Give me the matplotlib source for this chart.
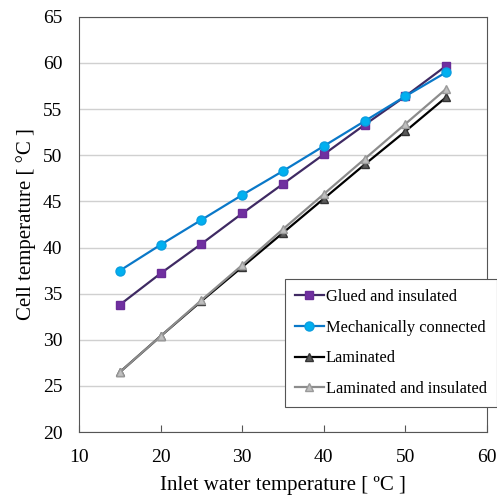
import matplotlib
matplotlib.use('Agg')
import matplotlib.pyplot as plt

inlet = [15, 20, 25, 30, 35, 40, 45, 50, 55]
glued = [33.8, 37.2, 40.4, 43.7, 46.9, 50.1, 53.3, 56.4, 59.7]
mech = [37.5, 40.3, 43.0, 45.7, 48.3, 51.0, 53.7, 56.4, 59.0]
laminated = [26.5, 30.4, 34.2, 37.9, 41.6, 45.3, 49.0, 52.6, 56.3]
lam_ins = [26.5, 30.4, 34.3, 38.1, 42.0, 45.8, 49.6, 53.4, 57.2]

plt.rcParams['font.family'] = ['Liberation Serif', 'DejaVu Serif']

fig = plt.figure(figsize=(4.97, 4.95), dpi=100)
ax = fig.add_axes([0.159, 0.127, 0.821, 0.839])

ax.plot(inlet, glued, '-s', color='#3f2a63', lw=1.6, ms=5.5,
        mfc='#7030a0', mec='#6a2c98', label='Glued and insulated')
ax.plot(inlet, mech, '-o', color='#0a78c8', lw=1.6, ms=6.5,
        mfc='#00b0f0', mec='#0a9ee0', label='Mechanically connected')
ax.plot(inlet, laminated, '-^', color='black', lw=1.6, ms=6,
        mfc='#5a5a5a', mec='#333333', label='Laminated')
ax.plot(inlet, lam_ins, '-^', color='#8c8c8c', lw=1.6, ms=6,
        mfc='#c0c0c0', mec='#9a9a9a', label='Laminated and insulated')

ax.set_xlim(10, 60)
ax.set_ylim(20, 65)
ax.set_xticks(range(10, 61, 10))
ax.set_yticks(range(20, 66, 5))
ax.yaxis.grid(True, color='#d0d0d0', lw=1)
ax.set_axisbelow(True)
ax.tick_params(axis='x', direction='in', length=5, labelsize=14, pad=12, color='#555555')
ax.tick_params(axis='y', length=0, labelsize=14, pad=12)
for sp in ax.spines.values():
    sp.set_color('#555555')

ax.set_xlabel('Inlet water temperature [ ºC ]', fontsize=15, labelpad=7)
ax.set_ylabel('Cell temperature [ °C ]', fontsize=15, labelpad=5)

leg = ax.legend(loc='lower left', bbox_to_anchor=(0.573, 0.178), bbox_transform=fig.transFigure,
                borderaxespad=0, fancybox=False, framealpha=1, edgecolor='#555555',
                fontsize=11.8, handlelength=1.8, handletextpad=0.1, labelspacing=0.9,
                borderpad=0.6)
leg.get_frame().set_linewidth(0.8)

fig.savefig('out.png', dpi=100)
